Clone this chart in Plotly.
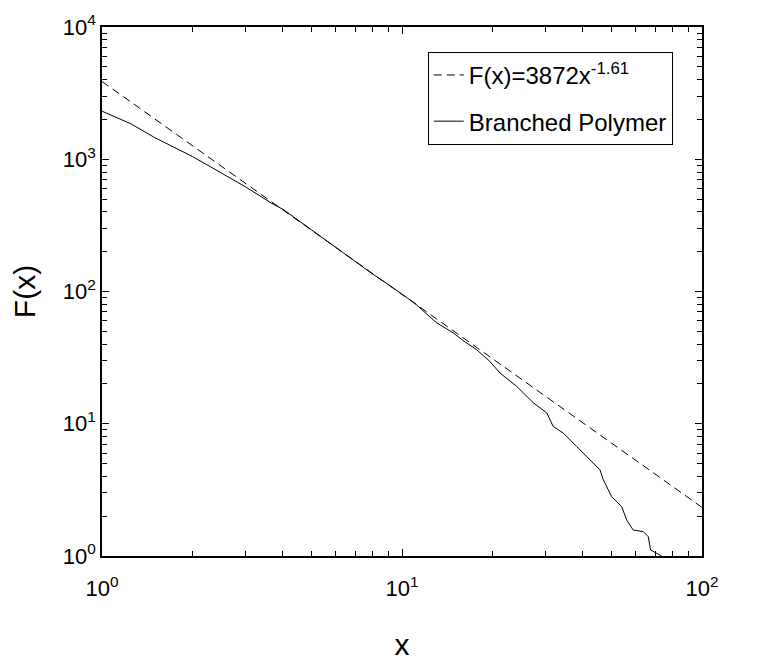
import plotly.graph_objects as go

# Branched polymer F(x)
polymer_x = [1.0, 1.25, 1.5, 1.75, 2.0, 2.5, 3.0, 3.68, 4.0, 5.0, 6.0, 7.0, 8.0, 9.0,
             9.85, 11.0, 11.63, 13.05, 14.8, 16.0, 17.7, 19.6, 21.2, 24.1, 27.4,
             30.4, 31.9, 34.5, 38.2, 42.3, 45.7, 46.9, 50.0, 54.0, 56.1, 59.0,
             63.7, 66.2, 67.4, 73.4]
polymer_y = [2310, 1850, 1456, 1230, 1050, 787, 621, 464, 420, 292, 216, 167, 135, 113,
             98, 82, 73, 58, 48.7, 42.5, 36.4, 29.7, 24.2, 19.2, 14.4,
             12.05, 9.55, 8.5, 6.73, 5.34, 4.48, 3.76, 2.81, 2.36, 1.87, 1.57,
             1.53, 1.40, 1.11, 1.0]

# power-law fit F(x) = 3872 x^-1.61
fit_amp = 3872
fit_exp = -1.61
fit_x = [1, 2, 5, 10, 20, 50, 100]
fit_y = [fit_amp * v ** fit_exp for v in fit_x]

x_ticks = [1, 10, 100]
x_labels = ["10<sup>0</sup>", "10<sup>1</sup>", "10<sup>2</sup>"]
y_ticks = [1, 10, 100, 1000, 10000]
y_labels = ["10<sup>0</sup>", "10<sup>1</sup>", "10<sup>2</sup>", "10<sup>3</sup>", "10<sup>4</sup>"]

# minor ticks at 2..9 of each decade
x_minor = [m * d for d in (1, 10) for m in range(2, 10)]
y_minor = [m * d for d in (1, 10, 100, 1000) for m in range(2, 10)]

FONT = "Liberation Sans, Arial, sans-serif"

fig = go.Figure()

fig.add_trace(go.Scatter(
    x=fit_x, y=fit_y,
    mode="lines",
    name="F(x)=3872x<sup>-1.61</sup>",
    legendgroup="fit",
    line=dict(color="black", width=1, dash="8px,5px"),
))

fig.add_trace(go.Scatter(
    x=polymer_x, y=polymer_y,
    mode="lines",
    name="Branched Polymer",
    legendgroup="data",
    line=dict(color="black", width=1),
))

axis_common = dict(
    type="log",
    showgrid=False,
    zeroline=False,
    showline=True,
    linecolor="black",
    linewidth=1.5,
    mirror="ticks",
    ticks="inside",
    ticklen=7,
    tickcolor="black",
    automargin=False,
    tickfont=dict(family=FONT, size=22, color="black"),
)

fig.update_xaxes(
    **axis_common,
    range=[0, 2],
    tickvals=x_ticks,
    ticktext=x_labels,
    ticklabelstandoff=12,
    minor=dict(tickvals=x_minor, ticks="inside", ticklen=5, tickcolor="black", showgrid=False),
    title=dict(text="x", font=dict(family=FONT, size=30, color="black"), standoff=36),
)
fig.update_yaxes(
    **axis_common,
    range=[0, 4],
    tickvals=y_ticks,
    ticktext=y_labels,
    minor=dict(tickvals=y_minor, ticks="inside", ticklen=5, tickcolor="black", showgrid=False),
    title=dict(text="F(x)", font=dict(family=FONT, size=30, color="black"), standoff=18),
)

fig.update_layout(
    width=768,
    height=653,
    margin=dict(l=94, r=74, t=19, b=105),
    paper_bgcolor="white",
    plot_bgcolor="white",
    showlegend=True,
    legend=dict(
        x=0.543, y=0.953,
        xanchor="left", yanchor="top",
        bgcolor="white",
        bordercolor="black",
        borderwidth=1,
        traceorder="grouped",
        tracegroupgap=12,
        font=dict(family=FONT, size=24, color="black"),
    ),
)

fig.write_html("out.html")
